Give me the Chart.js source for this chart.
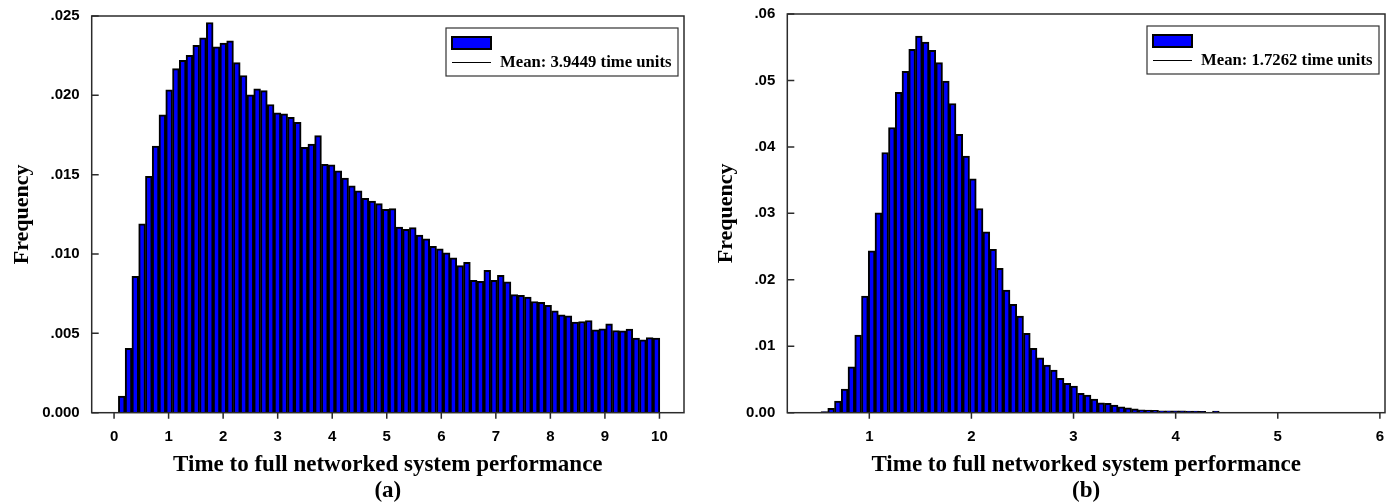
<!DOCTYPE html>
<html>
<head>
<meta charset="utf-8">
<title>Time to full networked system performance</title>
<script src="https://cdn.jsdelivr.net/npm/chart.js@4.4.1/dist/chart.umd.min.js"></script>
<style>
  html, body { margin: 0; padding: 0; background: #fff; }
  #wrap { position: relative; width: 1393px; height: 504px; overflow: hidden; }
  .panel { position: absolute; top: 0; height: 504px; }
</style>
</head>
<body>
<div id="wrap">
  <div class="panel" style="left:0;width:700px"><canvas id="chart-a" width="700" height="504"></canvas></div>
  <div class="panel" style="left:700px;width:693px"><canvas id="chart-b" width="693" height="504"></canvas></div>
</div>
<script>
// ═══════════════════════════════════════════════
// Histograms of time to full networked system performance
// ═══════════════════════════════════════════════

// ── Data: panel (a) ──
const binStartA = 0.079;
const binWidthA = 0.1241;
const freqA = [
  0.00104, 0.00406, 0.00860, 0.01190, 0.01490, 0.01680, 0.01877, 0.02035, 0.02168, 0.02220,
  0.02252, 0.02315, 0.02362, 0.02459, 0.02305, 0.02330, 0.02343, 0.02206, 0.02125, 0.02003,
  0.02041, 0.02030, 0.01942, 0.01889, 0.01883, 0.01862, 0.01830, 0.01672, 0.01693, 0.01746,
  0.01566, 0.01562, 0.01524, 0.01478, 0.01429, 0.01398, 0.01351, 0.01334, 0.01318, 0.01282,
  0.01286, 0.01170, 0.01155, 0.01166, 0.01119, 0.01096, 0.01049, 0.01033, 0.01008, 0.00976,
  0.00927, 0.00948, 0.00834, 0.00828, 0.00898, 0.00834, 0.00866, 0.00824, 0.00744, 0.00739,
  0.00729, 0.00701, 0.00695, 0.00676, 0.00642, 0.00617, 0.00611, 0.00571, 0.00575, 0.00581,
  0.00522, 0.00528, 0.00560, 0.00518, 0.00516, 0.00527, 0.00470, 0.00459, 0.00473, 0.00470
];
const meanLabelA = 'Mean: 3.9449 time units';

// ── Data: panel (b) ──
const binStartB = 0.527;
const binWidthB = 0.0661;
const freqB = [
  0.00015, 0.00066, 0.00176, 0.00356, 0.00692, 0.01168, 0.01755, 0.02436, 0.03008, 0.03916,
  0.04292, 0.04823, 0.05138, 0.05469, 0.05669, 0.05579, 0.05454, 0.05269, 0.04992, 0.04653,
  0.04191, 0.03860, 0.03519, 0.03073, 0.02722, 0.02457, 0.02171, 0.01845, 0.01630, 0.01454,
  0.01194, 0.00968, 0.00827, 0.00717, 0.00642, 0.00517, 0.00442, 0.00401, 0.00291, 0.00266,
  0.00206, 0.00150, 0.00141, 0.00116, 0.00090, 0.00075, 0.00060, 0.00045, 0.00040, 0.00035,
  0.00030, 0.00030, 0.00028, 0.00028, 0.00025, 0.00025, 0.00022, 0.00005, 0.00025
];
const meanLabelB = 'Mean: 1.7262 time units';

const xTitle = 'Time to full networked system performance';
const yTitle = 'Frequency';

// bin centres -> {x, y}
function toPoints(start, width, values) {
  return values.map(function(v, i) { return { x: start + width * (i + 0.5), y: v }; });
}

// ── Frame, inward/outward ticks and the legend box ──
const framePlugin = {
  id: 'frame',
  afterDraw: function(chart, args, opts) {
    const ctx = chart.ctx;
    const a = chart.chartArea;
    const xs = chart.scales.x, ys = chart.scales.y;
    ctx.save();
    ctx.strokeStyle = '#2b2b2b';
    ctx.lineWidth = 1.5;
    ctx.strokeRect(a.left, a.top, a.right - a.left, a.bottom - a.top);
    ctx.beginPath();
    ys.ticks.forEach(function(t) {
      const py = ys.getPixelForValue(t.value);
      ctx.moveTo(a.left, py); ctx.lineTo(a.left + 7, py);
    });
    xs.ticks.forEach(function(t) {
      const px = xs.getPixelForValue(t.value);
      ctx.moveTo(px, a.bottom); ctx.lineTo(px, a.bottom + 6);
    });
    ctx.stroke();

    // legend
    const bx = a.right - opts.inset - opts.width, by = a.top + 12;
    ctx.fillStyle = '#fff';
    ctx.fillRect(bx, by, opts.width, opts.height);
    ctx.lineWidth = 1.2;
    ctx.strokeStyle = '#333';
    ctx.strokeRect(bx, by, opts.width, opts.height);
    ctx.fillStyle = '#0000ff';
    ctx.fillRect(bx + 6, by + 9, 39, 12);
    ctx.lineWidth = 2;
    ctx.strokeStyle = '#000';
    ctx.strokeRect(bx + 6, by + 9, 39, 12);
    ctx.lineWidth = 1;
    ctx.beginPath();
    ctx.moveTo(bx + 6, by + 34.5); ctx.lineTo(bx + 45, by + 34.5);
    ctx.stroke();
    ctx.fillStyle = '#000';
    ctx.font = 'bold 16.7px "Liberation Serif", "Times New Roman", serif';
    ctx.textBaseline = 'middle';
    ctx.textAlign = 'left';
    ctx.fillText(opts.label, bx + 54, by + 35);
    ctx.restore();
  }
};

const tickFont = { family: '"Liberation Sans", Arial, sans-serif', weight: 'bold', size: 15 };

function makeChart(id, cfg) {
  return new Chart(document.getElementById(id), {
    type: 'bar',
    data: {
      datasets: [{
        data: cfg.points,
        backgroundColor: '#0000ff',
        borderColor: '#000',
        borderWidth: 2,
        barPercentage: 1,
        categoryPercentage: 1
      }]
    },
    options: {
      responsive: false,
      animation: false,
      layout: { padding: cfg.padding },
      plugins: {
        legend: { display: false },
        tooltip: { enabled: false },
        frame: { label: cfg.meanLabel, width: 232, height: 48, inset: 6 }
      },
      scales: {
        x: {
          type: 'linear',
          offset: false,
          min: cfg.xMin, max: cfg.xMax,
          afterFit: function(s) { s.height = 91.3; s.paddingLeft = 0; s.paddingRight = 0; },
          grid: { display: false, drawTicks: false },
          border: { display: false },
          ticks: { stepSize: 1, includeBounds: false, padding: 15, color: '#000', font: tickFont },
          title: {
            display: true,
            text: [xTitle, cfg.tag],
            color: '#000',
            font: { family: '"Liberation Serif", "Times New Roman", serif', weight: 'bold', size: 23, lineHeight: 1.13 },
            padding: { top: 0, bottom: 0 }
          }
        },
        y: {
          min: 0, max: cfg.yMax,
          afterFit: function(s) { s.width = cfg.yWidth; s.paddingTop = 0; s.paddingBottom = 0; },
          grid: { display: false, drawTicks: false },
          border: { display: false },
          ticks: {
            stepSize: cfg.yStep,
            padding: 12,
            color: '#000',
            font: tickFont,
            callback: function(v) {
              return v === 0 ? cfg.zeroLabel : v.toFixed(cfg.decimals).replace(/^0/, '');
            }
          },
          title: {
            display: true,
            text: yTitle,
            color: '#000',
            font: { family: '"Liberation Serif", "Times New Roman", serif', weight: 'bold', size: 22 },
            padding: { top: cfg.yTitlePad, bottom: 0 }
          }
        }
      }
    },
    plugins: [framePlugin]
  });
}

makeChart('chart-a', {
  points: toPoints(binStartA, binWidthA, freqA),
  meanLabel: meanLabelA,
  tag: '(a)',
  padding: { left: 0, top: 16, right: 16, bottom: 0 },
  xMin: -0.41, xMax: 10.45,
  yMax: 0.025, yStep: 0.005, decimals: 3, zeroLabel: '0.000',
  yWidth: 91.7, yTitlePad: 9
});

makeChart('chart-b', {
  points: toPoints(binStartB, binWidthB, freqB),
  meanLabel: meanLabelB,
  tag: '(b)',
  padding: { left: 0, top: 14, right: 8, bottom: 0 },
  xMin: 0.197, xMax: 6.05,
  yMax: 0.06, yStep: 0.01, decimals: 2, zeroLabel: '0.00',
  yWidth: 87.3, yTitlePad: 13
});
</script>
</body>
</html>
